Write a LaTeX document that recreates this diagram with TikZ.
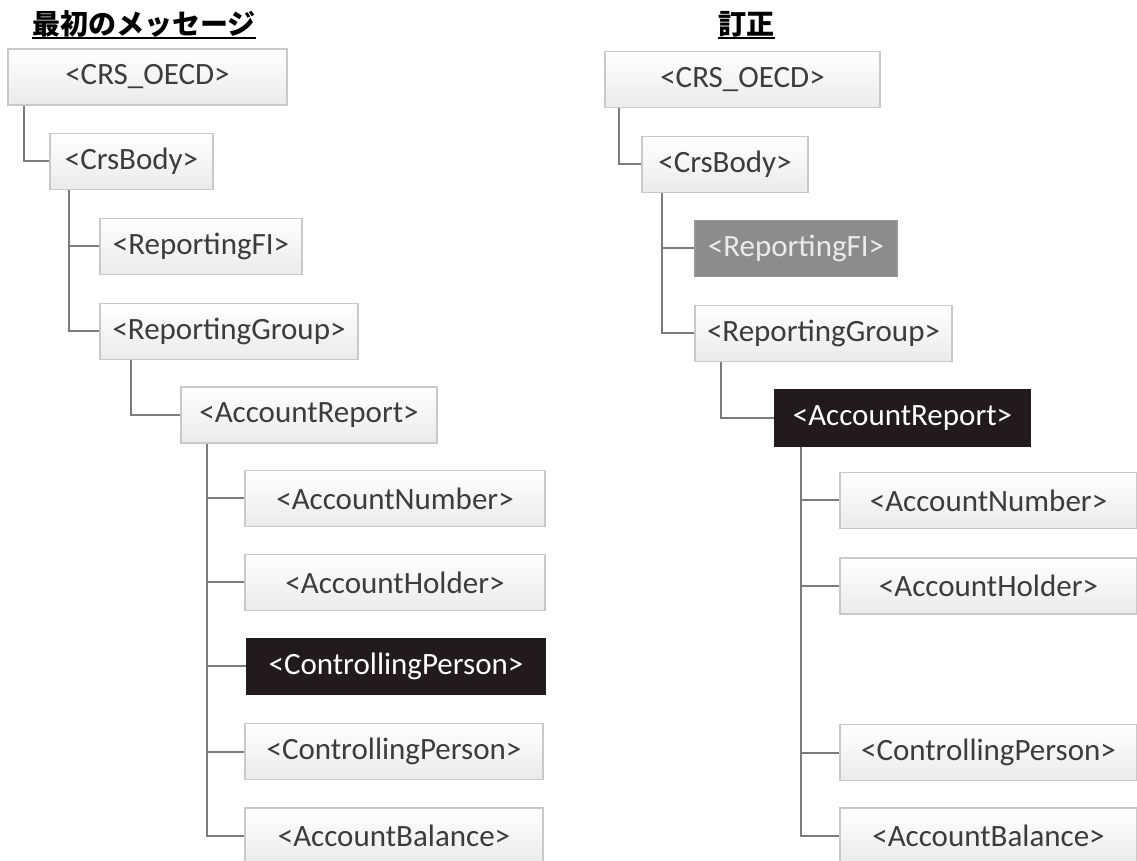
\documentclass[tikz,border=0pt]{standalone}
\usepackage{fontspec}
\setmainfont{Carlito}
\newfontfamily\jpfont{Noto Sans CJK JP}
\usetikzlibrary{calc}
\definecolor{boxline}{HTML}{C9C9C9}
\definecolor{boxtext}{HTML}{3C3C3C}
\definecolor{linkgray}{HTML}{7C7C7C}
\definecolor{darkbox}{HTML}{231B1B}
\definecolor{midbox}{HTML}{8C8C8C}
\begin{document}
\begin{tikzpicture}[x=0.5pt,y=-0.5pt,
  elem/.style={draw=boxline, line width=0.6pt, top color=white, bottom color=black!8,
    text=boxtext, inner sep=0pt, minimum height=28pt,
    font=\fontsize{15.5}{18}\selectfont},
  elemdark/.style={elem, draw=darkbox, top color=darkbox, bottom color=darkbox, text=white},
  elemgray/.style={elem, draw=midbox!90, top color=midbox, bottom color=midbox, text=black!8},
  link/.style={draw=linkgray, line width=1pt},
  heading/.style={inner sep=0pt, font=\jpfont\bfseries\fontsize{14}{16}\selectfont}]
\useasboundingbox (0,0) rectangle (1137,861);

% column headings
\node[heading] (hl) at (144,24) {最初のメッセージ};
\draw[line width=0.9pt] (32,38) coordinate (hla) -- (256,38) coordinate (hlb);
\node[heading] (hr) at (746.5,24) {訂正};
\draw[line width=0.9pt] (718,38) coordinate (hra) -- (775,38) coordinate (hrb);

% original message tree
\node[elem, minimum width=139.5pt] (L0) at (147.5,77) {<CRS\_OECD>};
\node[elem, minimum width=81.5pt] (L1) at (131.5,161.5) {<CrsBody>};
\node[elem, minimum width=101pt] (L2) at (201,246.5) {<ReportingFI>};
\node[elem, minimum width=129pt] (L3) at (229,331.5) {<ReportingGroup>};
\node[elem, minimum width=128pt] (L4) at (309,415) {<AccountReport>};
\node[elem, minimum width=150pt] (L5) at (395,498.5) {<AccountNumber>};
\node[elem, minimum width=150pt] (L6) at (395,582.5) {<AccountHolder>};
\node[elemdark, minimum width=149pt] (L7) at (396,666.5) {<ControllingPerson>};
\node[elem, minimum width=149pt] (L8) at (394,751.5) {<ControllingPerson>};
\node[elem, minimum width=149pt] (L9) at (394,836) {<AccountBalance>};

\draw[link] ([xshift=8.5pt]L0.south west) |- (L1.west);
\draw[link] ([xshift=10pt]L1.south west) |- (L2.west);
\draw[link] ([xshift=10pt]L1.south west) |- (L3.west);
\draw[link] ([xshift=16pt]L3.south west) |- (L4.west);
\foreach \c in {L5,L6,L7,L8,L9}
  \draw[link] ([xshift=13.5pt]L4.south west) |- (\c.west);

% correction tree
\node[elem, minimum width=137.5pt] (R0) at (742.5,79.5) {<CRS\_OECD>};
\node[elem, minimum width=83pt] (R1) at (725,164.5) {<CrsBody>};
\node[elemgray, minimum width=101pt] (R2) at (796,248.5) {<ReportingFI>};
\node[elem, minimum width=128.5pt] (R3) at (823.5,333.5) {<ReportingGroup>};
\node[elemdark, minimum width=127.5pt] (R4) at (902.5,418) {<AccountReport>};
\node[elem, minimum width=148.5pt] (R5) at (988.5,500.5) {<AccountNumber>};
\node[elem, minimum width=148.5pt] (R6) at (988.5,586) {<AccountHolder>};
\node[elem, minimum width=148.5pt] (R8) at (988.5,752.5) {<ControllingPerson>};
\node[elem, minimum width=148.5pt] (R9) at (988.5,836) {<AccountBalance>};

\draw[link] ([xshift=7.5pt]R0.south west) |- (R1.west);
\draw[link] ([xshift=10.5pt]R1.south west) |- (R2.west);
\draw[link] ([xshift=10.5pt]R1.south west) |- (R3.west);
\draw[link] ([xshift=13.5pt]R3.south west) |- (R4.west);
\foreach \c in {R5,R6,R8,R9}
  \draw[link] ([xshift=13.5pt]R4.south west) |- (\c.west);
\end{tikzpicture}
\end{document}
